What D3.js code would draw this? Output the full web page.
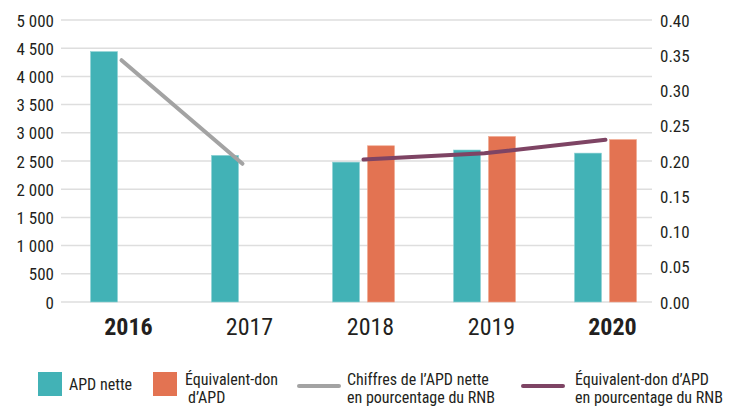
<!DOCTYPE html>
<meta charset="utf-8">
<html>
<head>
<script src="https://d3js.org/d3.v7.min.js"></script>
<style>
  body { margin: 0; background: #fff; }
  svg text { font-family: "Liberation Sans Narrow", "Arial Narrow", "Roboto Condensed", sans-serif; fill: #231f20; }
</style>
</head>
<body>
<div id="viz"></div>
<script>
// data
const years = ["2016", "2017", "2018", "2019", "2020"];
const boldYears = ["2016", "2020"];
const apdNette = [4440, 2600, 2480, 2695, 2640];
const equivDon = [null, null, 2770, 2935, 2880];
const pctNette = [0.343, 0.196, null, null, null];
const pctEquiv = [null, null, 0.202, 0.211, 0.230];
const leftTicks = [0, 500, 1000, 1500, 2000, 2500, 3000, 3500, 4000, 4500, 5000];
const rightTicks = [0, 0.05, 0.10, 0.15, 0.20, 0.25, 0.30, 0.35, 0.40];

const teal = "#42b2b6", orange = "#e37352", grey = "#a3a3a3", plum = "#7e4464";

const width = 735, height = 410;
const svg = d3.select("#viz").append("svg")
  .attr("width", width).attr("height", height);

const x = d3.scaleBand().domain(years).range([61, 666]);
const y = d3.scaleLinear().domain([0, 5000]).range([302, 20]);
const y2 = d3.scaleLinear().domain([0, 0.4]).range([302, 20]);

// gridlines
svg.append("g").selectAll("line")
  .data(leftTicks).join("line")
  .attr("x1", 61).attr("x2", 652)
  .attr("y1", d => y(d)).attr("y2", d => y(d))
  .attr("stroke", "#dedede").attr("stroke-width", 1.5);

// left axis
const fmt = d => d3.format(",")(d).replace(",", " ");
svg.append("g")
  .attr("transform", "translate(54,0)")
  .call(d3.axisLeft(y).tickValues(leftTicks).tickFormat(fmt).tickSize(0).tickPadding(0))
  .call(g => g.select(".domain").remove())
  .selectAll("text")
  .attr("dy", "0.36em")
  .style("font-size", "17px");

// right axis
svg.append("g")
  .attr("transform", "translate(660,0)")
  .call(d3.axisRight(y2).tickValues(rightTicks).tickFormat(d3.format(".2f")).tickSize(0).tickPadding(0))
  .call(g => g.select(".domain").remove())
  .selectAll("text")
  .attr("dy", "0.36em")
  .style("font-size", "17px");

// bars
const bw = 27;
const c = d => x(d) + x.bandwidth() / 2;
svg.append("g").selectAll("rect")
  .data(years.map((yr, i) => ({yr, v: apdNette[i]}))).join("rect")
  .attr("x", d => c(d.yr) - 31)
  .attr("y", d => y(d.v))
  .attr("width", bw)
  .attr("height", d => y(0) - y(d.v))
  .attr("fill", teal)
  .attr("stroke", "#8fd3d5").attr("stroke-width", 0.6);

svg.append("g").selectAll("rect")
  .data(years.map((yr, i) => ({yr, v: equivDon[i]})).filter(d => d.v != null)).join("rect")
  .attr("x", d => c(d.yr) + 4)
  .attr("y", d => y(d.v))
  .attr("width", bw)
  .attr("height", d => y(0) - y(d.v))
  .attr("fill", orange)
  .attr("stroke", "#f0a88f").attr("stroke-width", 0.6);

// lines
const line = d3.line()
  .defined(d => d.v != null)
  .x(d => c(d.yr))
  .y(d => y2(d.v));

svg.append("path")
  .datum(years.map((yr, i) => ({yr, v: pctNette[i]})))
  .attr("d", line)
  .attr("fill", "none").attr("stroke", grey)
  .attr("stroke-width", 4).attr("stroke-linecap", "round");

svg.append("path")
  .datum(years.map((yr, i) => ({yr, v: pctEquiv[i]})))
  .attr("d", line)
  .attr("fill", "none").attr("stroke", plum)
  .attr("stroke-width", 4).attr("stroke-linecap", "round");

// year labels
svg.append("g").selectAll("text")
  .data(years).join("text")
  .attr("x", d => c(d) + 7)
  .attr("y", 335)
  .attr("text-anchor", "middle")
  .style("font-size", "24px")
  .style("font-weight", d => boldYears.includes(d) ? "bold" : "normal")
  .text(d => d);

// legend
const lg = svg.append("g").style("font-size", "16px");
lg.append("rect").attr("x", 38).attr("y", 372).attr("width", 24).attr("height", 24).attr("fill", teal);
lg.append("text").attr("x", 69).attr("y", 390).text("APD nette");

lg.append("rect").attr("x", 153).attr("y", 372).attr("width", 24).attr("height", 24).attr("fill", orange);
lg.append("text").attr("x", 185).attr("y", 385).text("Équivalent-don");
lg.append("text").attr("x", 188).attr("y", 403).text("d’APD");

lg.append("line").attr("x1", 299).attr("x2", 339).attr("y1", 386).attr("y2", 386)
  .attr("stroke", grey).attr("stroke-width", 4).attr("stroke-linecap", "round");
lg.append("text").attr("x", 347).attr("y", 385).text("Chiffres de l’APD nette");
lg.append("text").attr("x", 347).attr("y", 403).text("en pourcentage du RNB");

lg.append("line").attr("x1", 523).attr("x2", 563).attr("y1", 386).attr("y2", 386)
  .attr("stroke", plum).attr("stroke-width", 4).attr("stroke-linecap", "round");
lg.append("text").attr("x", 575).attr("y", 385).text("Équivalent-don d’APD");
lg.append("text").attr("x", 575).attr("y", 403).text("en pourcentage du RNB");
</script>
</body>
</html>
